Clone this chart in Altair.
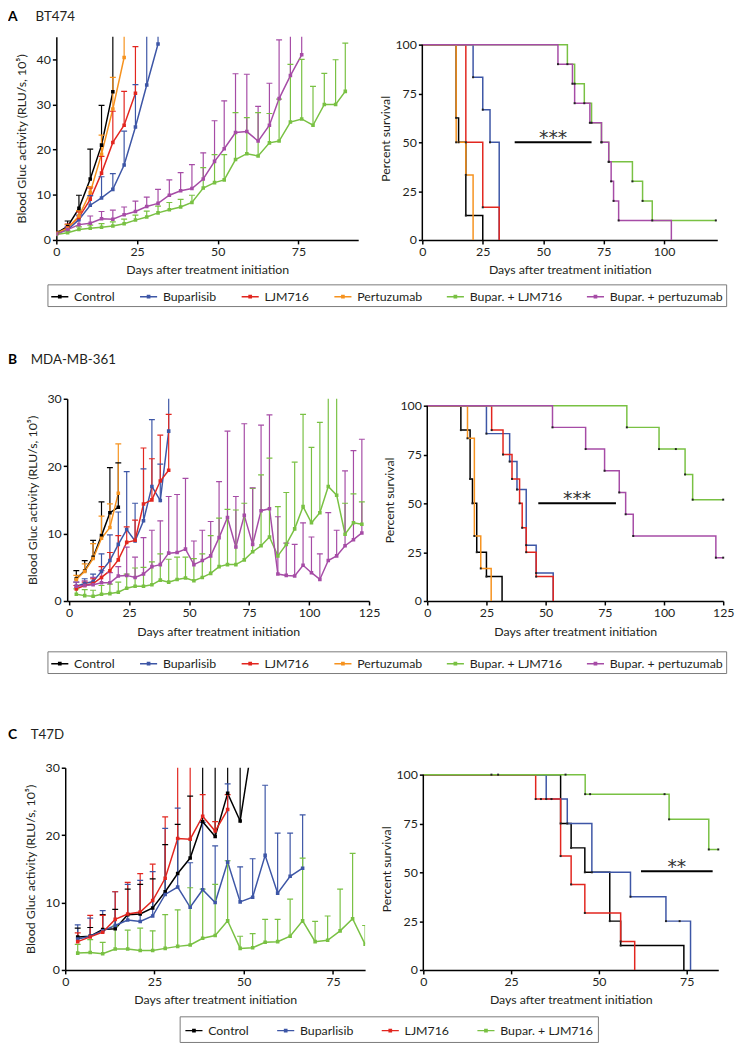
import altair as alt
import pandas as pd

FONT = "Lato"
TXT = "#231f20"

NAMES6 = ["Control", "Buparlisib", "LJM716", "Pertuzumab", "Bupar. + LJM716", "Bupar. + pertuzumab"]
COLORS6 = ["#000000", "#3d56a6", "#e2261f", "#f6921e", "#79c143", "#a64ca6"]
NAMES4 = ["Control", "Buparlisib", "LJM716", "Bupar. + LJM716"]
COLORS4 = ["#000000", "#3d56a6", "#e2261f", "#79c143"]

Y_GROWTH = "Blood Gluc activity (RLU/s, 10\u2075)"
X_TITLE = "Days after treatment initiation"

# ---------------- Panel A (BT474) growth ----------------
A_days = [0, 3.5, 7, 10.5, 14, 17.5, 21, 24.5, 28, 31.5, 35, 38.5, 42, 45.5, 49, 52, 55.5,
          59, 62.5, 66, 69, 72.5, 76, 79.5, 83, 86.5, 89.5]
A_ctrl_mean = [1.5, 3.0, 7.0, 13.5, 21.0, 32.8]
A_ctrl_up = [1.9, 4.2, 9.9, 20.1, 29.8, 60]
A_bup_mean = [1.4, 2.3, 4.5, 7.7, 9.3, 11.2, 16.6, 25.0, 34.3, 43.4]
A_bup_up = [1.7, 2.8, 5.5, 9.8, 14.0, 14.7, 24.1, 34.4, 60, 60]
A_ljm_mean = [1.3, 2.7, 5.0, 9.0, 14.8, 21.6, 25.4, 32.5]
A_ljm_up = [1.6, 3.5, 6.2, 11.5, 18.5, 28.5, 32.9, 42.8]
A_per_mean = [1.5, 2.6, 5.3, 10.5, 19.0, 29.0, 40.4]
A_per_up = [1.8, 3.4, 6.5, 11.8, 23.2, 36, 60]
A_bl_mean = [1.2, 1.6, 2.3, 2.6, 2.8, 3.1, 3.6, 4.4, 5.1, 6.0, 6.7, 7.3, 8.3, 11.5, 12.7, 13.3,
             17.8, 19.1, 18.6, 21.5, 21.9, 26.1, 26.8, 25.4, 30.0, 30.0, 32.9]
A_bl_up = [1.5, 2.0, 2.9, 3.3, 3.6, 4.0, 4.6, 5.5, 6.4, 7.5, 8.3, 9.0, 9.9, 16.0, 18.9, 18.9,
           28.2, 27.1, 28.2, 28.0, 31.2, 38.9, 40.0, 34.0, 36.9, 39.9, 43.6]
A_bp_mean = [1.3, 2.3, 3.4, 3.7, 4.7, 4.6, 5.6, 6.3, 7.4, 8.1, 9.9, 10.9, 11.4, 13.5, 17.4, 20.2,
             23.8, 24.0, 21.9, 25.4, 31.3, 36.4, 41.0]
A_bp_up = [1.6, 3.0, 5.3, 5.3, 6.3, 6.6, 7.3, 8.6, 9.5, 11.2, 13.3, 14.9, 16.7, 19.3, 26.4, 30.8,
           36.8, 36.7, 29.6, 34.7, 44.3, 60, 60]

# ---------------- Panel B (MDA-MB-361) growth ----------------
B_days = [3, 6.5, 10, 13.5, 17, 20.5, 24, 27.5, 31, 34.5, 38, 41.5, 45, 48.5, 52, 55.5, 59, 62.5,
          66, 69.5, 73, 76.5, 80, 83.5, 87, 90.5, 94, 97.5, 101, 104.5, 108, 111.5, 115, 118.5, 122]
B_ctrl_mean = [3.3, 4.5, 6.5, 9.7, 13.1, 13.9]
B_ctrl_up = [4.5, 6.0, 9.0, 14.7, 19.8, 20.5]
B_bup_mean = [2.2, 2.6, 2.9, 4.4, 6.0, 8.4, 10.6, 8.9, 11.9, 17.0, 14.9, 25.2]
B_bup_up = [2.8, 3.3, 4.0, 7.0, 9.8, 13.2, 19.2, 14.5, 19.6, 26.9, 20.3, 35]
B_ljm_mean = [1.8, 2.3, 2.6, 3.5, 4.5, 6.1, 8.7, 9.0, 14.4, 15.0, 17.8, 19.4]
B_ljm_up = [2.3, 2.8, 3.3, 5.1, 7.2, 9.7, 11.0, 12.0, 22.7, 21.1, 24.6, 27.7]
B_per_mean = [3.2, 4.4, 6.3, 9.3, 10.9, 16.0]
B_per_up = [3.8, 5.5, 8.5, 12.6, 14.4, 23.3]
B_bl_mean = [1.0, 0.8, 0.7, 1.0, 1.1, 1.3, 1.9, 2.2, 2.2, 2.4, 3.1, 2.8, 3.2, 3.4, 3.0, 3.5, 4.1,
             5.1, 5.4, 5.4, 6.1, 7.3, 8.2, 9.5, 6.7, 8.4, 10.7, 14.0, 11.6, 13.1, 17.0, 15.7, 9.9,
             11.6, 11.4]
B_bl_up = [1.8, 1.7, 1.6, 2.3, 2.5, 2.8, 4.0, 4.9, 5.0, 5.8, 7.0, 6.2, 6.5, 6.5, 6.3, 7.0, 9.7,
           12.3, 13.6, 13.5, 14.5, 16.7, 18.7, 21.2, 14.0, 16.1, 20.6, 27.7, 22.8, 26.5, 35, 35,
           14.5, 15.9, 14.7]
B_bp_mean = [2.2, 2.3, 2.4, 2.7, 2.7, 3.7, 3.8, 3.5, 4.0, 5.1, 5.4, 7.1, 7.2, 7.7, 5.4, 6.0, 6.7,
             9.4, 12.4, 8.0, 12.7, 8.4, 13.4, 13.7, 4.0, 3.8, 3.7, 5.3, 4.2, 3.2, 6.0, 6.7, 8.2,
             9.1, 10.1]
B_bp_up = [2.8, 3.0, 3.5, 4.5, 4.2, 5.1, 8.0, 6.5, 9.4, 10.5, 11.9, 15.5, 15.8, 18.2, 8.9, 10.5,
           11.8, 17.7, 25.2, 15.5, 26.3, 16.8, 26.1, 27.6, 12.5, 8.6, 8.4, 11.6, 9.5, 7.0, 13.1,
           10.5, 19.3, 22.3, 24.0]

# ---------------- Panel C (T47D) growth ----------------
C_days = [3.5, 7, 10.5, 14, 17.5, 21, 24.5, 28, 31.5, 35, 38.5, 42, 45.5, 49, 52.5, 56, 59.5, 63,
          66.5, 70, 73.5, 77, 80.5, 84]
C_ctrl_mean = [4.9, 5.0, 6.0, 6.1, 8.2, 8.3, 9.2, 11.6, 14.3, 16.6, 22.0, 19.8, 26.2, 22.1, 34]
C_ctrl_up = [6.2, 6.3, 8.2, 9.0, 12.0, 12.7, 13.5, 18.6, 21.6, 25.8, 40, 40, 40, 40, 40]
C_bup_mean = [4.6, 5.0, 5.8, 6.6, 7.4, 7.2, 8.0, 11.2, 12.3, 9.3, 11.9, 10.0, 16.0, 10.1, 10.8,
              17.0, 11.4, 13.9, 15.1]
C_bup_up = [6.7, 7.7, 8.8, 11.6, 12.7, 13.3, 14.6, 21.0, 24.0, 15.9, 21.9, 18.4, 27.6, 15.3, 16.5,
            27.4, 20.3, 20.3, 23.0]
C_ljm_mean = [4.2, 4.9, 5.6, 7.5, 8.3, 8.6, 10.3, 13.6, 19.5, 19.4, 22.8, 20.6, 23.8]
C_ljm_up = [5.5, 8.1, 8.1, 11.6, 13.0, 14.3, 15.7, 22.7, 40, 40, 26.0, 22.0, 26.0]
C_bl_mean = [2.5, 2.6, 2.4, 3.1, 3.1, 2.9, 2.9, 3.2, 3.5, 3.7, 4.7, 5.1, 7.3, 3.2, 3.3, 4.1, 4.2,
             5.0, 7.3, 4.2, 4.4, 5.8, 7.6, 3.8]
C_bl_up = [3.8, 4.5, 4.1, 6.5, 5.9, 6.2, 5.8, 8.2, 8.9, 12.2, 12.0, 12.7, 16.2, 5.0, 5.4, 7.5, 7.5,
           10.5, 16.6, 7.2, 8.0, 12.0, 17.3, 6.6]

# ---------------- Survival (Kaplan-Meier) ----------------
SA = {
    "Control": ([0, 14, 15, 18, 25], [100, 62.5, 50, 12.5, 0]),
    "Buparlisib": ([0, 21, 25, 28, 31.8], [100, 83.3, 66.7, 50, 0]),
    "LJM716": ([0, 18, 25, 31.8], [100, 50, 16.7, 0]),
    "Pertuzumab": ([0, 14, 18, 21], [100, 50, 33.3, 0]),
    "Bupar. + LJM716": ([0, 60, 63, 67, 70, 74.1, 77.1, 86.9, 91.1, 95.1, 121.4],
                        [100, 90, 80, 70, 60, 50, 40, 30, 20, 10, 10]),
    "Bupar. + pertuzumab": ([0, 56.1, 62.1, 63, 69.3, 74.1, 77.1, 78.1, 79.1, 81.2, 103],
                            [100, 90, 80, 70, 60, 50, 40, 30, 20, 10, 0]),
}
SB = {
    "Control": ([0, 14.2, 18.1, 19.1, 20.9, 25, 31.6], [100, 87.5, 62.5, 50, 25, 12.5, 0]),
    "Buparlisib": ([0, 25, 34.8, 37.9, 41.8, 46, 53.2], [100, 85.7, 71.4, 57.1, 28.6, 14.3, 0]),
    "LJM716": ([0, 27.2, 32, 35.8, 39, 40.1, 41.8, 46, 53.2],
               [100, 87.5, 75, 62.5, 50, 37.5, 25, 12.5, 0]),
    "Pertuzumab": ([0, 17, 19.9, 22.6, 27], [100, 83.3, 33.3, 16.7, 0]),
    "Bupar. + LJM716": ([0, 84.3, 97.9, 108.9, 112.1, 125], [100, 88.9, 77.8, 64.8, 51.9, 51.9]),
    "Bupar. + pertuzumab": ([0, 52.9, 66.9, 74.9, 81.1, 83.8, 87, 121.9, 125],
                            [100, 88.9, 77.8, 66.7, 55.6, 44.4, 33.3, 22.2, 22.2]),
}
SC = {
    "Control": ([0, 39.1, 42.1, 46, 53.1, 56.2, 74.2], [100, 75, 62.5, 50, 25, 12.5, 0]),
    "Buparlisib": ([0, 35, 41, 48, 59, 69.1, 76.1], [100, 87.5, 75, 50, 37.5, 25, 0]),
    "LJM716": ([0, 32, 39.1, 42.1, 46, 56.2, 60.2], [100, 87.5, 58.3, 43.8, 29.2, 14.6, 0]),
    "Bupar. + LJM716": ([0, 46.1, 70, 81.3, 84], [100, 90, 77.1, 61.7, 61.7]),
}
# extra censor marks (time, percent)
CENS_B = [(105, 77.8)]
CENS_C = [(19.4, 100), (21.3, 100), (40.5, 100), (47.5, 90), (68.7, 90), (33.5, 87.5),
          (36.5, 87.5), (73, 25)]

SIG_A = (38.2, 70, 50, "***")
SIG_B = (46.9, 79.7, 50, "***")
SIG_C = (62, 82.4, 50.5, "**")


def growth_df(days, series):
    rows = []
    for name, (mean, up) in series.items():
        for d, m, u in zip(days, mean, up):
            rows.append({"series": name, "day": d, "mean": m, "up": u})
    return pd.DataFrame(rows)


def surv_df(series):
    rows = []
    for name, (ts, ss) in series.items():
        for t, s in zip(ts, ss):
            rows.append({"series": name, "t": t, "s": s})
    return pd.DataFrame(rows)


def dots_df(series, extra):
    rows = []
    for name, (ts, ss) in series.items():
        for t, s in zip(ts, ss):
            if t > 0 and s > 0:
                rows.append({"t": t, "s": s})
    for t, s in extra:
        rows.append({"t": t, "s": s})
    return pd.DataFrame(rows)


def xenc(field, dom, ticks):
    return alt.X(f"{field}:Q", scale=alt.Scale(domain=dom, nice=False, zero=False),
                 axis=alt.Axis(values=ticks, title=X_TITLE, format="d", titlePadding=6))


SYMBOL = "M-1,0L1,0M-0.13,-0.13L0.13,-0.13L0.13,0.13L-0.13,0.13Z"


def growth_panel(df, names, colors, xdom, xticks, ymax, yticks, w, h,
                 letter, cell, letter_pos, cell_pos, leg_pos, leg_colpad, leg_pad):
    x = xenc("day", xdom, xticks)
    ysc = alt.Scale(domain=[0, ymax], nice=False)
    yax = alt.Axis(values=yticks, title=Y_GROWTH, titlePadding=8)
    y = alt.Y("mean:Q", scale=ysc, axis=yax)
    yup = alt.Y("up:Q", scale=ysc, axis=yax)
    sc = alt.Scale(domain=names, range=colors)
    leg = alt.Legend(title=None, orient="none", legendX=leg_pos[0], legendY=leg_pos[1],
                     direction="horizontal", columns=len(names), symbolType=SYMBOL,
                     symbolSize=300, symbolStrokeWidth=1.5, labelFont=FONT, labelFontSize=12.5,
                     labelColor=TXT, labelOffset=5, columnPadding=leg_colpad, padding=leg_pad,
                     strokeColor="#7a7a7a", fillColor="white")
    col = alt.Color("series:N", scale=sc, legend=leg)
    base = alt.Chart(df)
    err = base.mark_rule(strokeWidth=1.2, clip=True).encode(x=x, y=y, y2="up:Q", color=col)
    cap = base.mark_point(shape="M-1,0L1,0", size=36, strokeWidth=1.2, filled=False, opacity=1,
                          clip=True).encode(x=x, y=yup, color=col)
    line = base.mark_line(strokeWidth=1.5, clip=True).encode(x=x, y=y, color=col)
    pts = base.mark_point(shape="square", filled=True, size=13, opacity=1, clip=True).encode(
        x=x, y=y, color=col)
    lab = alt.Chart(pd.DataFrame({"t": [letter]})).mark_text(
        align="left", baseline="middle", fontSize=14, fontWeight="bold", font=FONT, color="black"
    ).encode(text="t:N", x=alt.value(letter_pos[0]), y=alt.value(letter_pos[1]))
    cl = alt.Chart(pd.DataFrame({"t": [cell]})).mark_text(
        align="left", baseline="middle", fontSize=13.5, font=FONT, color=TXT
    ).encode(text="t:N", x=alt.value(cell_pos[0]), y=alt.value(cell_pos[1]))
    return alt.layer(line, err, cap, pts, lab, cl).properties(width=w, height=h)


def surv_panel(series, extra, sig, names, colors, xdom, xticks, w, h, top_off):
    ytop = 100.0 * h / (h - top_off)
    x = xenc("t", xdom, xticks)
    ysc = alt.Scale(domain=[0, ytop], nice=False)
    yax = alt.Axis(values=[0, 25, 50, 75, 100], title="Percent survival", domain=False,
                   titlePadding=3)
    y = alt.Y("s:Q", scale=ysc, axis=yax)
    sc = alt.Scale(domain=names, range=colors)
    lines = alt.Chart(surv_df(series)).mark_line(interpolate="step-after", strokeWidth=1.5).encode(
        x=x, y=y, color=alt.Color("series:N", scale=sc, legend=None))
    dots = alt.Chart(dots_df(series, extra)).mark_point(
        shape="square", filled=True, size=4, color="#222222", opacity=1).encode(x=x, y=y)
    yline = alt.Chart(pd.DataFrame({"t": [xdom[0]], "s": [0], "s2": [100]})).mark_rule(
        color="black", strokeWidth=1.5).encode(x=x, y=y, y2="s2:Q")
    sdf = pd.DataFrame({"t": [sig[0]], "t2": [sig[1]], "s": [sig[2]],
                        "tm": [(sig[0] + sig[1]) / 2], "lab": [sig[3]]})
    bar = alt.Chart(sdf).mark_rule(color="black", strokeWidth=2).encode(x=x, x2="t2:Q", y=y)
    star = alt.Chart(sdf).mark_text(dy=-4, fontSize=19, font="DejaVu Sans", color="#333333",
                                    baseline="middle").encode(
        x=xenc("tm", xdom, xticks), y=y, text="lab:N")
    return alt.layer(lines, yline, bar, star, dots).properties(width=w, height=h)


def spacer(w):
    return alt.Chart(pd.DataFrame({"z": [0]})).mark_point(opacity=0, size=1).encode(
        x=alt.X("z:Q", axis=None, scale=alt.Scale(domain=[0, 1])),
        y=alt.Y("z:Q", axis=None, scale=alt.Scale(domain=[0, 1]))
    ).properties(width=w, height=1)


def row(offset, left, right, gap):
    inner = alt.hconcat(left, right, spacing=gap, bounds="flush").resolve_scale(color="independent")
    if offset == 0:
        return inner
    return alt.hconcat(spacer(offset), inner, spacing=0, bounds="flush").resolve_scale(
        color="independent")


dfA = growth_df(A_days, {
    "Control": (A_ctrl_mean, A_ctrl_up), "Buparlisib": (A_bup_mean, A_bup_up),
    "LJM716": (A_ljm_mean, A_ljm_up), "Pertuzumab": (A_per_mean, A_per_up),
    "Bupar. + LJM716": (A_bl_mean, A_bl_up), "Bupar. + pertuzumab": (A_bp_mean, A_bp_up)})
dfB = growth_df(B_days, {
    "Control": (B_ctrl_mean, B_ctrl_up), "Buparlisib": (B_bup_mean, B_bup_up),
    "LJM716": (B_ljm_mean, B_ljm_up), "Pertuzumab": (B_per_mean, B_per_up),
    "Bupar. + LJM716": (B_bl_mean, B_bl_up), "Bupar. + pertuzumab": (B_bp_mean, B_bp_up)})
dfC = growth_df(C_days, {
    "Control": (C_ctrl_mean, C_ctrl_up), "Buparlisib": (C_bup_mean, C_bup_up),
    "LJM716": (C_ljm_mean, C_ljm_up), "Bupar. + LJM716": (C_bl_mean, C_bl_up)})

A_left = growth_panel(dfA, NAMES6, COLORS6, [0, 93.5], [0, 25, 50, 75], 45, [0, 10, 20, 30, 40],
                      306, 206, "A", "BT474", (-49, -20), (-21, -20), (-9, 251), 21, 3)
A_right = surv_panel(SA, [], SIG_A, NAMES6, COLORS6, [0, 122], [0, 25, 50, 75, 100], 299, 206, 8)
rowA = row(0, A_left, A_right, 65)

B_left = growth_panel(dfB, NAMES6, COLORS6, [-0.8, 125], [0, 25, 50, 75, 100, 125], 30,
                      [0, 10, 20, 30], 306, 205, "B", "MDA-MB-361", (-60, -39), (-37, -39),
                      (-20, 256), 21, 3)
B_right = surv_panel(SB, CENS_B, SIG_B, NAMES6, COLORS6, [0, 125], [0, 25, 50, 75, 100, 125],
                     300, 205, 7)
rowB = row(11, B_left, B_right, 59)

C_left = growth_panel(dfC, NAMES4, COLORS4, [0, 84], [0, 25, 50, 75], 30, [0, 10, 20, 30],
                      304, 205, "C", "T47D", (-58, -33), (-35, -33), (116, 252), 24, 5)
C_right = surv_panel(SC, CENS_C, SIG_C, NAMES4, COLORS4, [0, 84], [0, 25, 50, 75], 299, 205, 7)
rowC = row(9, C_left, C_right, 59)

top = alt.vconcat(rowA, rowB, spacing=47).resolve_scale(color="independent")
chart = alt.vconcat(top, rowC, spacing=55).resolve_scale(
    color="independent"
).properties(
    padding={"left": 0, "top": -5, "right": 4, "bottom": 0},
    background="white",
).configure_view(stroke=None).configure_axis(
    domainColor="black", domainWidth=1.5, tickColor="black", tickWidth=1.5, tickSize=4,
    labelFont=FONT, labelFontSize=12.5, labelColor=TXT, titleFont=FONT, titleFontSize=12.5,
    titleFontWeight="normal", titleColor=TXT, grid=False, labelPadding=2, labelFlush=False,
    labelOverlap=False
)

chart.save("out.html", embed_options={"renderer": "svg", "actions": False})
